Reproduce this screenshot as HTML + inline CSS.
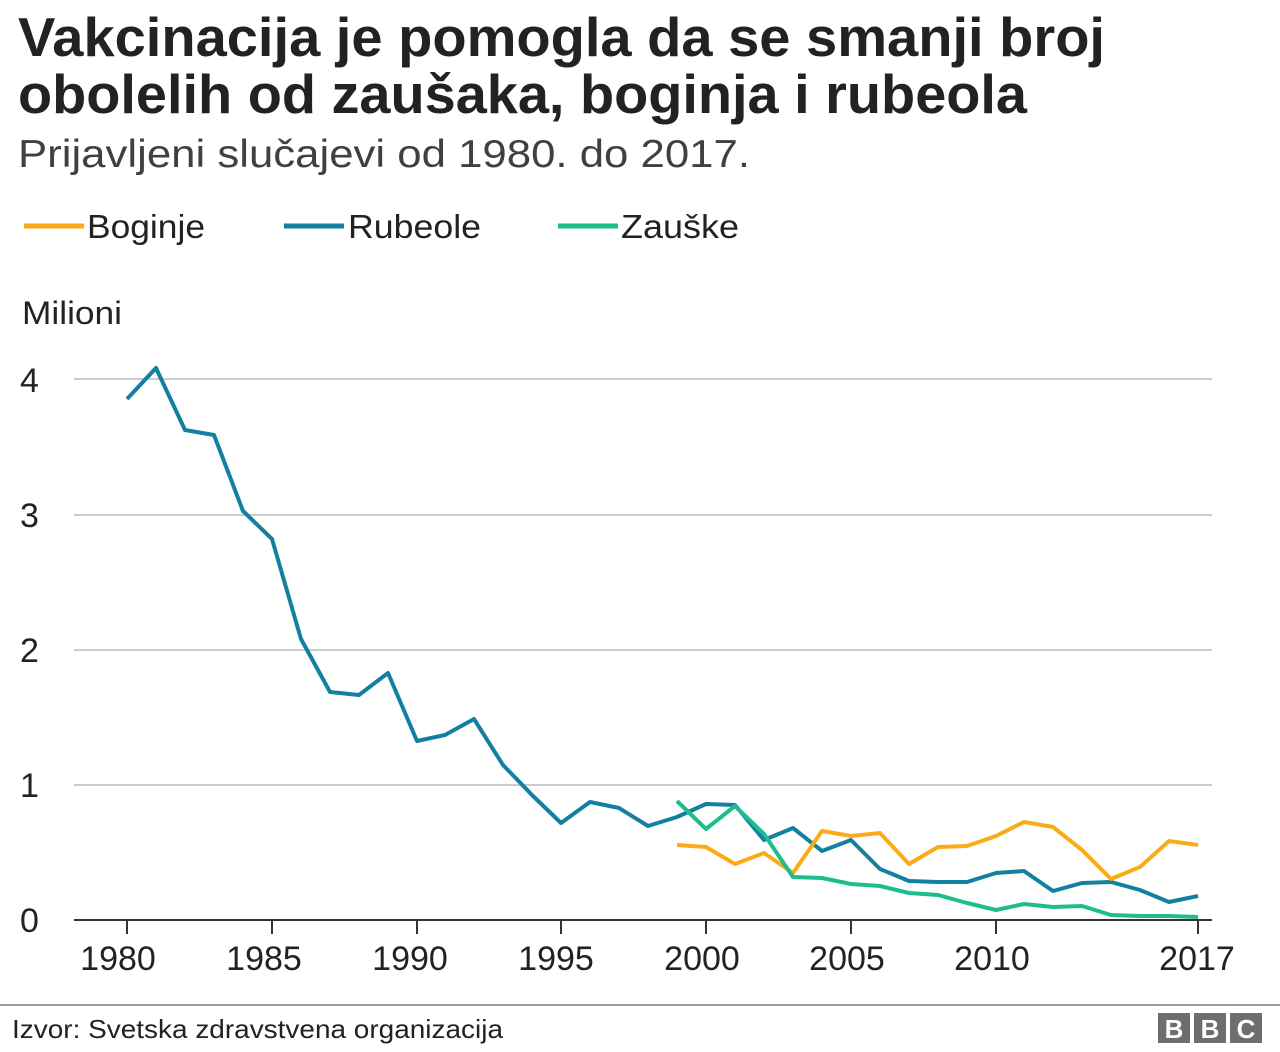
<!DOCTYPE html><html><head><style>
body{margin:0;width:1280px;height:1052px;background:#fff;position:relative;overflow:hidden}
</style></head><body>
<svg width="1280" height="1052" style="position:absolute;left:0;top:0" font-family="Liberation Sans, Arial, sans-serif">
<g fill="#222" font-weight="bold" font-size="55">
<text x="18" y="56" textLength="1087" lengthAdjust="spacingAndGlyphs">Vakcinacija je pomogla da se smanji broj</text>
<text x="18" y="113" textLength="1009" lengthAdjust="spacingAndGlyphs">obolelih od zaušaka, boginja i rubeola</text>
</g>
<text x="18" y="167" font-size="39" fill="#404040" textLength="732" lengthAdjust="spacingAndGlyphs">Prijavljeni slučajevi od 1980. do 2017.</text>
<g font-size="33" fill="#222">
<line x1="24" y1="226" x2="84" y2="226" stroke="#FAAB18" stroke-width="5"/><text x="87" y="238" textLength="118" lengthAdjust="spacingAndGlyphs">Boginje</text>
<line x1="284" y1="226" x2="344" y2="226" stroke="#1380A1" stroke-width="5"/><text x="348" y="238" textLength="133" lengthAdjust="spacingAndGlyphs">Rubeole</text>
<line x1="558" y1="226" x2="618" y2="226" stroke="#1DBD8E" stroke-width="5"/><text x="621" y="238" textLength="118" lengthAdjust="spacingAndGlyphs">Zauške</text>
<text x="22" y="324" font-size="32" textLength="100" lengthAdjust="spacingAndGlyphs">Milioni</text>
</g>
<g stroke="#cccccc" stroke-width="2">
<line x1="74" y1="379" x2="1212" y2="379"/><line x1="74" y1="515" x2="1212" y2="515"/><line x1="74" y1="650" x2="1212" y2="650"/><line x1="74" y1="785" x2="1212" y2="785"/>
</g>
<line x1="74" y1="920" x2="1212" y2="920" stroke="#333" stroke-width="2"/>
<g stroke="#333" stroke-width="2"><line x1="127" y1="920" x2="127" y2="934"/><line x1="272" y1="920" x2="272" y2="934"/><line x1="417" y1="920" x2="417" y2="934"/><line x1="561" y1="920" x2="561" y2="934"/><line x1="706" y1="920" x2="706" y2="934"/><line x1="851" y1="920" x2="851" y2="934"/><line x1="996" y1="920" x2="996" y2="934"/><line x1="1198" y1="920" x2="1198" y2="934"/></g>
<g font-size="34" fill="#222">
<text x="20" y="392">4</text><text x="20" y="527">3</text><text x="20" y="662">2</text><text x="20" y="797">1</text><text x="20" y="932">0</text>
<g text-anchor="middle"><text x="118" y="970">1980</text><text x="264" y="970">1985</text><text x="410" y="970">1990</text><text x="556" y="970">1995</text><text x="702" y="970">2000</text><text x="847" y="970">2005</text><text x="992" y="970">2010</text><text x="1197" y="970">2017</text></g>
</g>
<g fill="none" stroke-width="4" stroke-linejoin="round">
<polyline stroke="#1380A1" points="127,399 156,368 185,430 214,435 243,511 272,539 301,639 330,692 359,695 388,673 417,741 445,735 474,719 503,765 532,795 561,823 590,802 619,808 648,826 677,817 706,804 735,805 764,840 793,828 822,851 851,840 880,869 909,881 938,882 967,882 996,873 1024,871 1053,891 1082,883 1111,882 1140,890 1169,902 1198,896"/>
<polyline stroke="#FAAB18" points="677,845 706,847 735,864 764,853 793,873 822,831 851,836 880,833 909,864 938,847 967,846 996,836 1024,822 1053,827 1082,850 1111,879 1140,867 1169,841 1198,845"/>
<polyline stroke="#1DBD8E" points="677,801 706,829 735,806 764,834 793,877 822,878 851,884 880,886 909,893 938,895 967,903 996,910 1024,904 1053,907 1082,906 1111,915 1140,916 1169,916 1198,917"/>
</g>
<line x1="0" y1="1005" x2="1280" y2="1005" stroke="#999" stroke-width="2"/>
<text x="12" y="1038" font-size="26" fill="#222" textLength="491" lengthAdjust="spacingAndGlyphs">Izvor: Svetska zdravstvena organizacija</text>
<g fill="#6e6e6e"><rect x="1158" y="1013" width="32" height="30"/><rect x="1194" y="1013" width="32" height="30"/><rect x="1230" y="1013" width="32" height="30"/></g>
<g fill="#fff" font-size="26" font-weight="bold" text-anchor="middle"><text x="1174" y="1038">B</text><text x="1210" y="1038">B</text><text x="1246" y="1038">C</text></g>
</svg>
</body></html>
